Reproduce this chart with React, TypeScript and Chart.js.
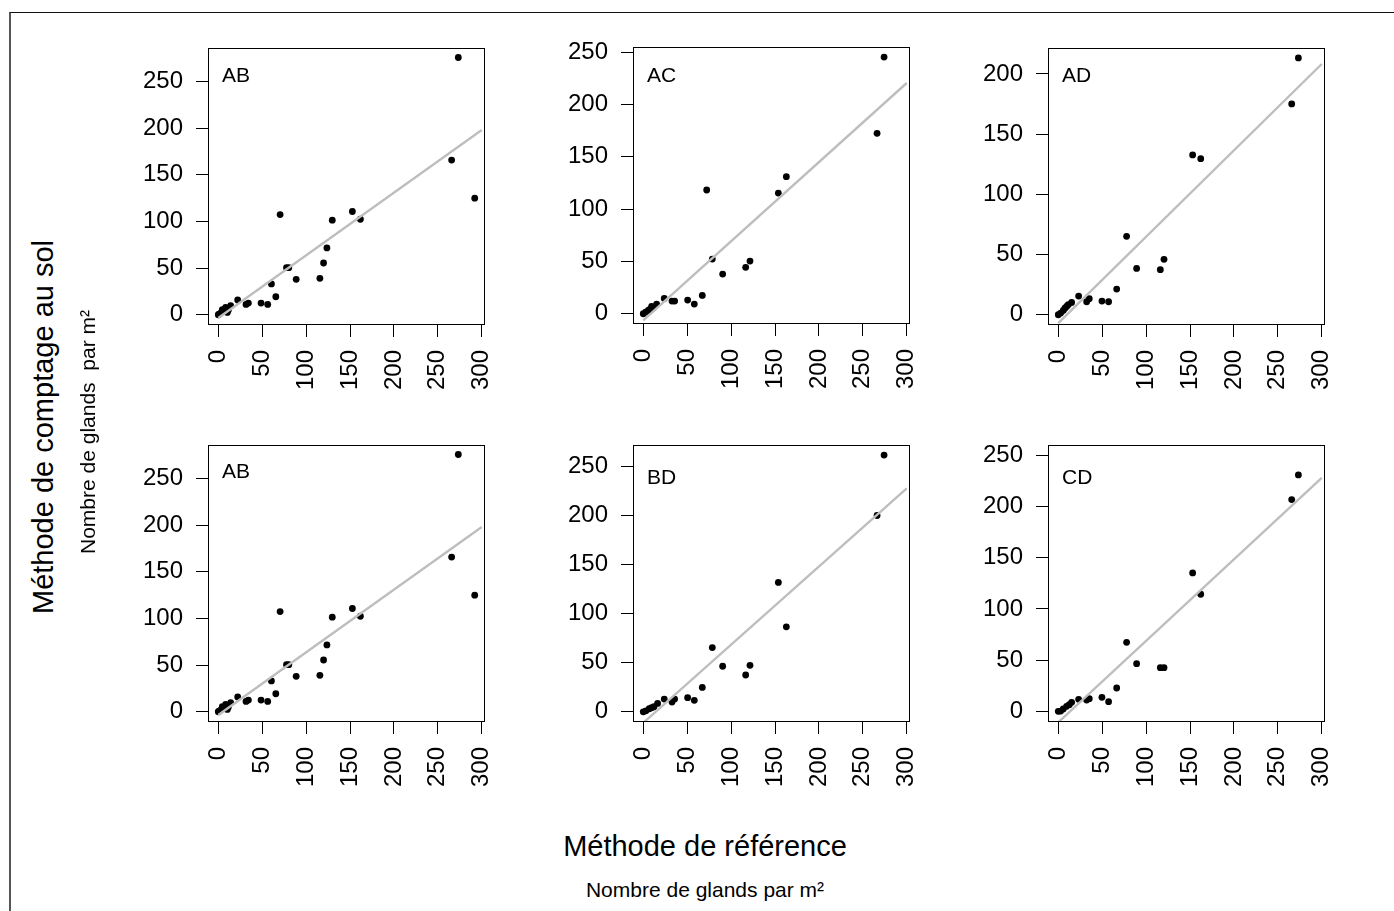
import React, { useEffect, useRef } from "react";
import { Chart, registerables } from "chart.js";

Chart.register(...registerables);

const FONT = '"Liberation Sans", Arial, Helvetica, sans-serif';

// Observer-pair labels, one per panel (row by row)
const panelNames = ["AB", "AC", "AD", "AB", "BD", "CD"];

// Reference method (x) vs ground counting (y), acorns per m²
const abX = [0, 1, 2.7, 4.6, 6.5, 8.4, 10.3, 11.4, 14.1, 22.1, 31.6, 34.3, 48.7, 56.3, 60.5, 65.5, 70.4, 77.7, 80.3, 88.7, 115.7, 119.9, 123.7, 129.8, 152.7, 161.8, 265.7, 273.3, 292];
const abY = [0, 0.5, 1.8, 5.4, 3.6, 7.9, 2.5, 4.7, 9.7, 15.8, 11.1, 12.5, 12.5, 11.1, 33, 19.3, 107.4, 50.5, 50.5, 38, 39, 55.5, 71.6, 101.4, 110.7, 102.4, 165.8, 275.8, 125];

const acX = [0, 2.7, 5.7, 7.6, 9.5, 11.4, 15.2, 23.9, 32.7, 35.7, 50.5, 58.1, 67.2, 72.2, 78.6, 90.4, 116.6, 121.5, 153.8, 162.9, 266.2, 274.2];
const acY = [0, 1.6, 3.2, 4.1, 7, 5.4, 9.2, 14.6, 12.1, 12.1, 13.1, 9.2, 17.5, 118.2, 52.2, 37.9, 44.3, 50.3, 115.3, 130.9, 172.3, 245.2];

const adX = [0, 2.7, 5.7, 7.6, 9.5, 11.4, 15.2, 23.2, 32.3, 35.3, 49.7, 57.3, 66.5, 77.8, 89.2, 116.2, 120.4, 153, 162.2, 265.8, 273.4];
const adY = [0, 1.4, 3.6, 5.5, 6.9, 8.3, 10.2, 15.5, 10.8, 13.3, 11.4, 10.8, 21.3, 65.1, 38.5, 37.4, 46, 132.7, 129.6, 175.1, 213.3];

const bdX = [0, 3, 6.8, 9.5, 12.2, 16.3, 23.9, 32.7, 35.7, 50.5, 58.1, 67.2, 78.6, 90.4, 116.6, 121.5, 153.8, 162.9, 266.2, 274.2];
const bdY = [0, 1, 3.1, 4.1, 5.1, 8.5, 12.9, 9.9, 12.9, 14.3, 11.6, 24.8, 65.3, 46.3, 37.4, 47.3, 131.6, 86.4, 199.7, 261.2];

const cdX = [0, 2.7, 5.7, 9.5, 12.5, 15.2, 23.2, 32.3, 35.3, 49.7, 57.3, 66.5, 77.8, 89.2, 116.2, 120.4, 153, 162.2, 265.8, 273.4];
const cdY = [0, 0.3, 2.3, 4.9, 6.5, 8.8, 11.7, 11.1, 12.4, 13.7, 9.4, 22.8, 67.4, 46.5, 42.6, 42.6, 135.1, 114.3, 206.7, 230.8];

const panelX = [abX, acX, adX, abX, bdX, cdX];
const panelY = [abY, acY, adY, abY, bdY, cdY];

// Linear fits drawn over each panel
const fitIntercept = [-3.6, -6.4, -6.9, -3.6, -11.2, -10.7];
const fitSlope = [0.672, 0.756, 0.717, 0.672, 0.795, 0.795];
const fitRange = [0, 300];

// Axis ticks and limits
const xTicks = [0, 50, 100, 150, 200, 250, 300];
const yTicksByPanel = [
  [0, 50, 100, 150, 200, 250],
  [0, 50, 100, 150, 200, 250],
  [0, 50, 100, 150, 200],
  [0, 50, 100, 150, 200, 250],
  [0, 50, 100, 150, 200, 250],
  [0, 50, 100, 150, 200, 250],
];
const xLimits = [-11.7, 303.7];
const yLimitsByPanel = [
  [-11, 286],
  [-9.8, 254.8],
  [-8.5, 221.5],
  [-11, 286],
  [-10.4, 271.4],
  [-10.4, 260],
];

// Page layout of the plotting boxes
const BOX = 277;
const AXIS_W = 110;
const AXIS_H = 80;
const PAD = 20;
const boxLefts = [208, 633, 1048, 208, 633, 1048];
const boxTops = [48, 47, 48, 445, 445, 445];
const labelBaselines = [34, 35, 34, 33, 39, 39];

function pinScale(scale: any, size: { width?: number; height?: number }) {
  if (size.width !== undefined) scale.width = size.width;
  if (size.height !== undefined) scale.height = size.height;
  scale.paddingLeft = 0;
  scale.paddingRight = 0;
  scale.paddingTop = 0;
  scale.paddingBottom = 0;
}

function Panel({ index }: { index: number }) {
  const ref = useRef<HTMLCanvasElement | null>(null);

  useEffect(() => {
    const canvas = ref.current;
    if (!canvas) return;
    const xs = panelX[index];
    const ys = panelY[index];
    const points = xs.map((x, i) => ({ x, y: ys[i] }));
    const fit = fitRange.map((x) => ({ x, y: fitIntercept[index] + fitSlope[index] * x }));
    const yTicks = yTicksByPanel[index];
    const [yMin, yMax] = yLimitsByPanel[index];

    const framePlugin = {
      id: "frameAndLabel",
      afterDraw(chart: Chart) {
        const { ctx, chartArea } = chart;
        ctx.save();
        ctx.strokeStyle = "#000";
        ctx.lineWidth = 1;
        ctx.strokeRect(
          chartArea.left + 0.5,
          chartArea.top + 0.5,
          chartArea.right - chartArea.left - 1,
          chartArea.bottom - chartArea.top - 1
        );
        ctx.fillStyle = "#000";
        ctx.font = `21px ${FONT}`;
        ctx.textAlign = "left";
        ctx.textBaseline = "alphabetic";
        ctx.fillText(panelNames[index], chartArea.left + 14, chartArea.top + labelBaselines[index]);
        ctx.restore();
      },
    };

    const chart = new Chart(canvas, {
      type: "scatter",
      data: {
        datasets: [
          {
            data: fit,
            showLine: true,
            borderColor: "#bebebe",
            borderWidth: 2.4,
            pointRadius: 0,
            pointHoverRadius: 0,
          },
          {
            data: points,
            backgroundColor: "#000",
            borderWidth: 0,
            pointRadius: 3.4,
            pointHoverRadius: 3.4,
          },
        ],
      },
      options: {
        responsive: false,
        animation: false,
        events: [],
        layout: { padding: { left: 0, top: PAD, right: PAD, bottom: 0 } },
        plugins: {
          legend: { display: false },
          tooltip: { enabled: false },
        },
        scales: {
          x: {
            type: "linear",
            min: xLimits[0],
            max: xLimits[1],
            afterBuildTicks: (scale: any) => {
              scale.ticks = xTicks.map((value) => ({ value }));
            },
            afterFit: (scale: any) => pinScale(scale, { height: AXIS_H }),
            border: { display: false },
            grid: {
              drawOnChartArea: false,
              drawTicks: true,
              tickLength: 12,
              color: "#000",
              tickColor: "#000",
              lineWidth: 1,
            },
            ticks: {
              minRotation: 90,
              maxRotation: 90,
              padding: 13,
              color: "#000",
              font: { family: FONT, size: 24 },
              callback: (v: any) => String(v),
            },
          },
          y: {
            type: "linear",
            min: yMin,
            max: yMax,
            afterBuildTicks: (scale: any) => {
              scale.ticks = yTicks.map((value) => ({ value }));
            },
            afterFit: (scale: any) => pinScale(scale, { width: AXIS_W }),
            border: { display: false },
            grid: {
              drawOnChartArea: false,
              drawTicks: true,
              tickLength: 12,
              color: "#000",
              tickColor: "#000",
              lineWidth: 1,
            },
            ticks: {
              padding: 13,
              color: "#000",
              font: { family: FONT, size: 24 },
              callback: (v: any) => String(v),
            },
          },
        },
      },
      plugins: [framePlugin],
    } as any);

    return () => chart.destroy();
  }, [index]);

  const width = AXIS_W + BOX + PAD;
  const height = PAD + BOX + AXIS_H;
  return (
    <canvas
      ref={ref}
      width={width}
      height={height}
      style={{
        position: "absolute",
        left: boxLefts[index] - AXIS_W,
        top: boxTops[index] - PAD,
        width,
        height,
      }}
    />
  );
}

const textBase: React.CSSProperties = {
  position: "absolute",
  whiteSpace: "pre",
  fontFamily: FONT,
  color: "#000",
  transformOrigin: "center center",
};

export default function App() {
  return (
    <div
      style={{
        position: "absolute",
        left: 0,
        top: 0,
        width: 1394,
        height: 911,
        overflow: "hidden",
        background: "#fff",
      }}
    >
      <div
        style={{
          position: "absolute",
          left: 9,
          top: 12,
          width: 1394,
          height: 911,
          borderTop: "1px solid #111",
          borderLeft: "2px solid #555",
        }}
      />
      {panelNames.map((_, i) => (
        <Panel key={i} index={i} />
      ))}
      <div
        style={{
          ...textBase,
          left: 42.7,
          top: 426.5,
          fontSize: 29,
          lineHeight: "32px",
          transform: "translate(-50%, -50%) rotate(-90deg)",
        }}
      >
        Méthode de comptage au sol
      </div>
      <div
        style={{
          ...textBase,
          left: 88,
          top: 432,
          fontSize: 21,
          lineHeight: "24px",
          transform: "translate(-50%, -50%) rotate(-90deg)",
        }}
      >
        {"Nombre de glands  par m²"}
      </div>
      <div
        style={{
          ...textBase,
          left: 705,
          top: 845.7,
          fontSize: 29,
          lineHeight: "32px",
          transform: "translate(-50%, -50%)",
        }}
      >
        Méthode de référence
      </div>
      <div
        style={{
          ...textBase,
          left: 705,
          top: 890,
          fontSize: 21,
          lineHeight: "24px",
          transform: "translate(-50%, -50%)",
        }}
      >
        Nombre de glands par m²
      </div>
    </div>
  );
}
